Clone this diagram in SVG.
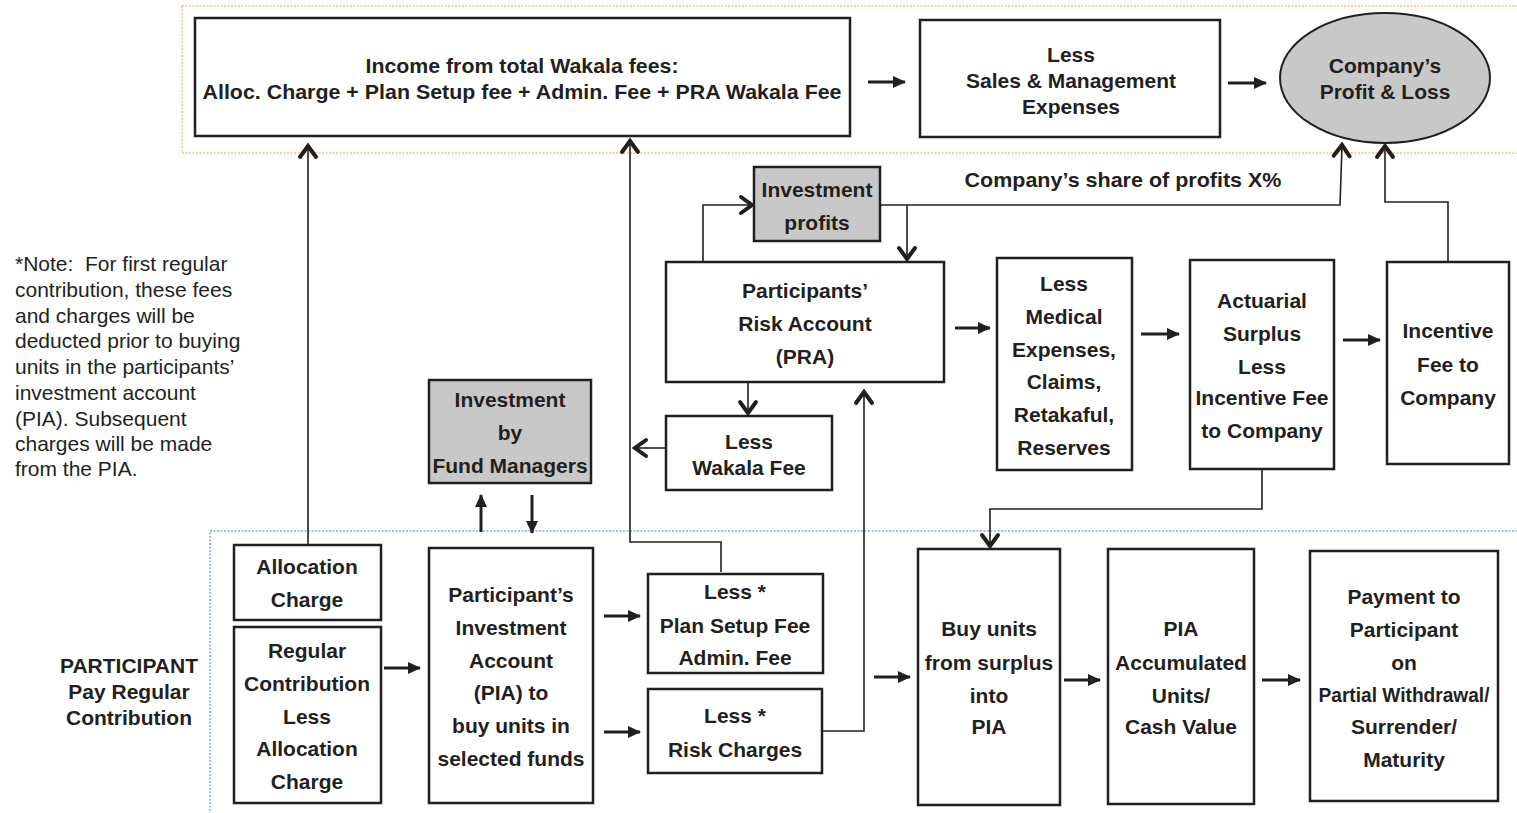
<svg xmlns="http://www.w3.org/2000/svg" width="1517" height="813" viewBox="0 0 1517 813">
<defs>
<style>
.bx{fill:#fff;stroke:#231f20;stroke-width:2.5}
.gr{fill:#c8c8c8;stroke:#231f20;stroke-width:2.5}
.t{font-family:"Liberation Sans",Arial,sans-serif;font-weight:bold;font-size:21px;fill:#231f20;text-anchor:middle}
.n{font-family:"Liberation Sans",Arial,sans-serif;font-size:21px;fill:#231f20;white-space:pre}
.thin{fill:none;stroke:#231f20;stroke-width:1.6}
.thick{fill:none;stroke:#231f20;stroke-width:3}
</style>
<marker id="tri" markerUnits="userSpaceOnUse" markerWidth="14" markerHeight="14" refX="12" refY="6" orient="auto" overflow="visible">
<path d="M0,0 L13,6 L0,12 z" fill="#231f20"/>
</marker>
<marker id="chev" markerUnits="userSpaceOnUse" markerWidth="18" markerHeight="18" refX="12" refY="9" orient="auto" overflow="visible">
<path d="M1,1 L12,9 L1,17" fill="none" stroke="#231f20" stroke-width="4" stroke-linecap="round" stroke-linejoin="miter"/>
</marker>
</defs>
<rect width="1517" height="813" fill="#fff"/>
<g id="regions">
<rect x="182" y="6" width="1345" height="147" fill="none" stroke="#f5a545" stroke-width="1" stroke-dasharray="2,1.5"/>
<rect x="210" y="531" width="1317" height="300" fill="none" stroke="#3a87b8" stroke-width="1" stroke-dasharray="2,1.5"/>
</g>
<g id="connectors">
<line class="thick" x1="868" y1="82" x2="905" y2="82" marker-end="url(#tri)"/>
<line class="thick" x1="1228" y1="83" x2="1266" y2="83" marker-end="url(#tri)"/>
<polyline class="thin" points="880,205 1340,205 1342,145" marker-end="url(#chev)"/>
<polyline class="thin" points="1448,262 1448,202 1385,202 1385,146" marker-end="url(#chev)"/>
<line class="thin" x1="907" y1="205" x2="907" y2="259" marker-end="url(#chev)"/>
<polyline class="thin" points="703,262 703,205 752,205" marker-end="url(#chev)"/>
<line class="thick" x1="955" y1="328" x2="990" y2="328" marker-end="url(#tri)"/>
<line class="thick" x1="1141" y1="334" x2="1179" y2="334" marker-end="url(#tri)"/>
<line class="thick" x1="1343" y1="340" x2="1380" y2="340" marker-end="url(#tri)"/>
<polyline class="thin" points="1262,469 1262,509 990,509 990,546" marker-end="url(#chev)"/>
<line class="thin" x1="748" y1="382" x2="748" y2="413" marker-end="url(#chev)"/>
<line class="thin" x1="665" y1="448" x2="635" y2="448" marker-end="url(#chev)"/>
<polyline class="thin" points="721,572 721,542 630,542 630,141" marker-end="url(#chev)"/>
<line class="thin" x1="308" y1="545" x2="308" y2="146" marker-end="url(#chev)"/>
<polyline class="thin" points="822,731 864,731 864,392" marker-end="url(#chev)"/>
<line class="thick" x1="481" y1="532" x2="481" y2="495" marker-end="url(#tri)"/>
<line class="thick" x1="532" y1="495" x2="532" y2="533" marker-end="url(#tri)"/>
<line class="thick" x1="384" y1="668" x2="420" y2="668" marker-end="url(#tri)"/>
<line class="thick" x1="604" y1="616" x2="640" y2="616" marker-end="url(#tri)"/>
<line class="thick" x1="604" y1="732" x2="640" y2="732" marker-end="url(#tri)"/>
<line class="thick" x1="874" y1="677" x2="910" y2="677" marker-end="url(#tri)"/>
<line class="thick" x1="1064" y1="680" x2="1100" y2="680" marker-end="url(#tri)"/>
<line class="thick" x1="1262" y1="680" x2="1300" y2="680" marker-end="url(#tri)"/>
</g>
<g id="income">
<rect class="bx" x="195" y="18" width="655" height="118"/>
<text class="t" x="522" y="73" textLength="313" lengthAdjust="spacingAndGlyphs">Income from total Wakala fees:</text>
<text class="t" x="522" y="99" textLength="639" lengthAdjust="spacingAndGlyphs">Alloc. Charge + Plan Setup fee + Admin. Fee + PRA Wakala Fee</text>
</g>
<g id="sales">
<rect class="bx" x="920" y="20" width="300" height="117"/>
<text class="t" x="1071" y="62">Less</text>
<text class="t" x="1071" y="88">Sales &amp; Management</text>
<text class="t" x="1071" y="114">Expenses</text>
</g>
<g id="pnl">
<ellipse cx="1385" cy="78" rx="105" ry="65" fill="#c8c8c8" stroke="#231f20" stroke-width="2"/>
<text class="t" x="1385" y="73">Company’s</text>
<text class="t" x="1385" y="99">Profit &amp; Loss</text>
</g>
<g id="share-label">
<text class="t" x="1123" y="187" textLength="317" lengthAdjust="spacingAndGlyphs">Company’s share of profits X%</text>
</g>
<g id="inv-profits">
<rect class="gr" x="754" y="167" width="126" height="74"/>
<text class="t" x="817" y="197">Investment</text>
<text class="t" x="817" y="230">profits</text>
</g>
<g id="pra">
<rect class="bx" x="666" y="262" width="278" height="120"/>
<text class="t" x="805" y="298">Participants’</text>
<text class="t" x="805" y="331">Risk Account</text>
<text class="t" x="805" y="364">(PRA)</text>
</g>
<g id="medical">
<rect class="bx" x="997" y="258" width="135" height="212"/>
<text class="t" x="1064" y="291">Less</text>
<text class="t" x="1064" y="324">Medical</text>
<text class="t" x="1064" y="357">Expenses,</text>
<text class="t" x="1064" y="389">Claims,</text>
<text class="t" x="1064" y="422">Retakaful,</text>
<text class="t" x="1064" y="455">Reserves</text>
</g>
<g id="actuarial">
<rect class="bx" x="1190" y="260" width="144" height="209"/>
<text class="t" x="1262" y="308">Actuarial</text>
<text class="t" x="1262" y="341">Surplus</text>
<text class="t" x="1262" y="374">Less</text>
<text class="t" x="1262" y="405">Incentive Fee</text>
<text class="t" x="1262" y="438">to Company</text>
</g>
<g id="incentive">
<rect class="bx" x="1387" y="262" width="122" height="202"/>
<text class="t" x="1448" y="338">Incentive</text>
<text class="t" x="1448" y="372">Fee to</text>
<text class="t" x="1448" y="405">Company</text>
</g>
<g id="wakala">
<rect class="bx" x="666" y="416" width="166" height="74"/>
<text class="t" x="749" y="449">Less</text>
<text class="t" x="749" y="475">Wakala Fee</text>
</g>
<g id="fund-managers">
<rect class="gr" x="429" y="380" width="162" height="103"/>
<text class="t" x="510" y="407">Investment</text>
<text class="t" x="510" y="440">by</text>
<text class="t" x="510" y="473">Fund Managers</text>
</g>
<g id="note">
<text class="n" x="15" y="271" xml:space="preserve">*Note:  For first regular</text>
<text class="n" x="15" y="297">contribution, these fees</text>
<text class="n" x="15" y="323">and charges will be</text>
<text class="n" x="15" y="348">deducted prior to buying</text>
<text class="n" x="15" y="374">units in the participants’</text>
<text class="n" x="15" y="400">investment account</text>
<text class="n" x="15" y="426">(PIA). Subsequent</text>
<text class="n" x="15" y="451">charges will be made</text>
<text class="n" x="15" y="476">from the PIA.</text>
</g>
<g id="participant">
<text class="t" x="129" y="673">PARTICIPANT</text>
<text class="t" x="129" y="699">Pay Regular</text>
<text class="t" x="129" y="725">Contribution</text>
</g>
<g id="alloc">
<rect class="bx" x="234" y="545" width="147" height="75"/>
<text class="t" x="307" y="574">Allocation</text>
<text class="t" x="307" y="607">Charge</text>
</g>
<g id="regular">
<rect class="bx" x="234" y="627" width="147" height="176"/>
<text class="t" x="307" y="658">Regular</text>
<text class="t" x="307" y="691">Contribution</text>
<text class="t" x="307" y="724">Less</text>
<text class="t" x="307" y="756">Allocation</text>
<text class="t" x="307" y="789">Charge</text>
</g>
<g id="pia">
<rect class="bx" x="429" y="548" width="164" height="255"/>
<text class="t" x="511" y="602">Participant’s</text>
<text class="t" x="511" y="635">Investment</text>
<text class="t" x="511" y="668">Account</text>
<text class="t" x="511" y="700">(PIA) to</text>
<text class="t" x="511" y="733">buy units in</text>
<text class="t" x="511" y="766">selected funds</text>
</g>
<g id="plan-setup">
<rect class="bx" x="648" y="574" width="175" height="99"/>
<text class="t" x="735" y="599">Less *</text>
<text class="t" x="735" y="633">Plan Setup Fee</text>
<text class="t" x="735" y="665">Admin. Fee</text>
</g>
<g id="risk-charges">
<rect class="bx" x="648" y="689" width="174" height="84"/>
<text class="t" x="735" y="723">Less *</text>
<text class="t" x="735" y="757">Risk Charges</text>
</g>
<g id="buy-units">
<rect class="bx" x="918" y="549" width="142" height="256"/>
<text class="t" x="989" y="636">Buy units</text>
<text class="t" x="989" y="670">from surplus</text>
<text class="t" x="989" y="703">into</text>
<text class="t" x="989" y="734">PIA</text>
</g>
<g id="pia-accum">
<rect class="bx" x="1108" y="549" width="146" height="255"/>
<text class="t" x="1181" y="636">PIA</text>
<text class="t" x="1181" y="670">Accumulated</text>
<text class="t" x="1181" y="703">Units/</text>
<text class="t" x="1181" y="734">Cash Value</text>
</g>
<g id="payment">
<rect class="bx" x="1310" y="551" width="188" height="250"/>
<text class="t" x="1404" y="604">Payment to</text>
<text class="t" x="1404" y="637">Participant</text>
<text class="t" x="1404" y="670">on</text>
<text class="t" x="1404" y="702" textLength="171" lengthAdjust="spacingAndGlyphs">Partial Withdrawal/</text>
<text class="t" x="1404" y="734">Surrender/</text>
<text class="t" x="1404" y="767">Maturity</text>
</g>
</svg>
